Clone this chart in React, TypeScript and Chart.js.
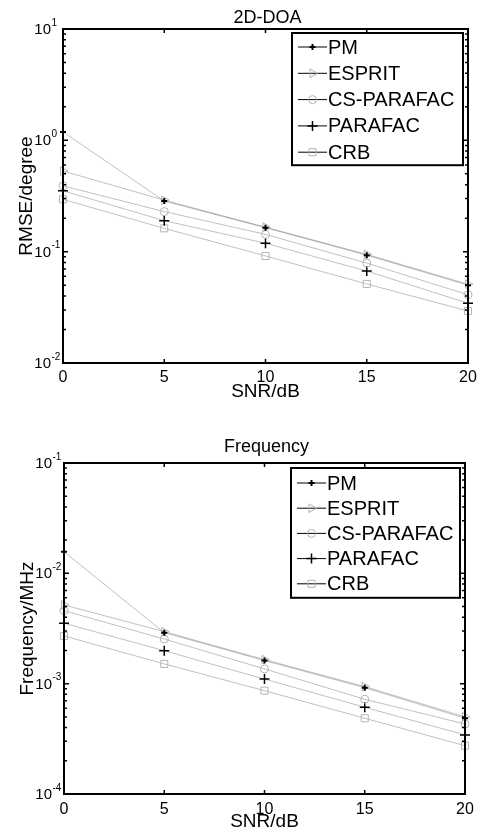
import React, { useEffect, useRef } from 'react';
import { Chart, registerables } from 'chart.js';
import { drawPoint } from 'chart.js/helpers';

Chart.register(...registerables);

// ---------- data ----------
const snr = [0, 5, 10, 15, 20];
const seriesNames = ['PM', 'ESPRIT', 'CS-PARAFAC', 'PARAFAC', 'CRB'];

const doaPM = [1.19, 0.285, 0.164, 0.093, 0.05];
const doaESPRIT = [0.53, 0.29, 0.166, 0.0945, 0.051];
const doaCSPARAFAC = [0.39, 0.229, 0.143, 0.079, 0.041];
const doaPARAFAC = [0.352, 0.19, 0.119, 0.067, 0.0344];
const doaCRB = [0.295, 0.162, 0.0915, 0.0513, 0.0293];

const freqPM = [0.0157, 0.0029, 0.00162, 0.00092, 0.000486];
const freqESPRIT = [0.00517, 0.00296, 0.00165, 0.00094, 0.0005];
const freqCSPARAFAC = [0.00459, 0.00254, 0.00136, 0.000722, 0.000431];
const freqPARAFAC = [0.00353, 0.00199, 0.0011, 0.000611, 0.000343];
const freqCRB = [0.00271, 0.00151, 0.000864, 0.000486, 0.000274];

const xTicks = [0, 5, 10, 15, 20];
const doaDecades = [-2, -1, 0, 1];
const freqDecades = [-4, -3, -2, -1];

// ---------- styles ----------
const FONT = '"Liberation Sans", Arial, Helvetica, sans-serif';
const LINE_COLOR = 'rgba(0,0,0,0.25)';
const markerStyles = [
  { pointStyle: 'cross', radius: 3, rotation: 0, borderWidth: 2, color: '#000000' },
  { pointStyle: 'triangle', radius: 5, rotation: 90, borderWidth: 1, color: '#b4b4b4' },
  { pointStyle: 'circle', radius: 4, rotation: 0, borderWidth: 1, color: '#b4b4b4' },
  { pointStyle: 'cross', radius: 5, rotation: 0, borderWidth: 1.5, color: '#000000' },
  { pointStyle: 'rect', radius: 5, rotation: 0, borderWidth: 1, color: '#b4b4b4' },
];

type PanelCfg = {
  title: string;
  yTitle: string;
  decades: number[];
  padding: { left: number; top: number; right: number; bottom: number };
  titleBaseline: number;
  xLabelGap: number;
  xTitleBaseline: number;
  yTitleX: number;
  legendTop: number;
  legendRightInset: number;
  legendWidth: number;
  legendRow: number;
  legendFirst: number;
};

function makePlugin(cfg: PanelCfg) {
  return {
    id: 'matlabAxes',
    afterDraw(chart: any) {
      const ctx: CanvasRenderingContext2D = chart.ctx;
      const ca = chart.chartArea;
      const xs = chart.scales.x;
      const ys = chart.scales.y;
      ctx.save();
      ctx.strokeStyle = '#000';
      ctx.fillStyle = '#000';

      // ticks
      ctx.lineWidth = 1.5;
      ctx.beginPath();
      for (const t of xTicks) {
        const px = xs.getPixelForValue(t);
        ctx.moveTo(px, ca.bottom);
        ctx.lineTo(px, ca.bottom - 4);
        ctx.moveTo(px, ca.top);
        ctx.lineTo(px, ca.top + 4);
      }
      const dmin = cfg.decades[0];
      const dmax = cfg.decades[cfg.decades.length - 1];
      for (let d = dmin; d <= dmax; d++) {
        const py = ys.getPixelForValue(Math.pow(10, d));
        ctx.moveTo(ca.left, py);
        ctx.lineTo(ca.left + 5, py);
        ctx.moveTo(ca.right, py);
        ctx.lineTo(ca.right - 5, py);
        if (d < dmax) {
          for (let m = 2; m <= 9; m++) {
            const pm = ys.getPixelForValue(m * Math.pow(10, d));
            ctx.moveTo(ca.left, pm);
            ctx.lineTo(ca.left + 3, pm);
            ctx.moveTo(ca.right, pm);
            ctx.lineTo(ca.right - 3, pm);
          }
        }
      }
      ctx.stroke();

      // box
      ctx.lineWidth = 2;
      ctx.strokeRect(ca.left, ca.top, ca.right - ca.left, ca.bottom - ca.top);

      // x tick labels
      ctx.font = `16px ${FONT}`;
      ctx.textAlign = 'center';
      ctx.textBaseline = 'top';
      for (const t of xTicks) {
        ctx.fillText(String(t), xs.getPixelForValue(t), ca.bottom + cfg.xLabelGap);
      }

      // y tick labels with superscripts
      for (const d of cfg.decades) {
        const py = ys.getPixelForValue(Math.pow(10, d));
        ctx.font = `15px ${FONT}`;
        ctx.textAlign = 'right';
        ctx.textBaseline = 'middle';
        ctx.fillText('10', ca.left - 12, py + 1);
        ctx.font = `10px ${FONT}`;
        ctx.textAlign = 'left';
        ctx.fillText(String(d), ca.left - 11.5, py - 6);
      }

      // titles
      const cx = (ca.left + ca.right) / 2;
      ctx.textAlign = 'center';
      ctx.textBaseline = 'alphabetic';
      ctx.font = `18px ${FONT}`;
      ctx.fillText(cfg.title, cx + 2, cfg.titleBaseline);
      ctx.font = `19px ${FONT}`;
      ctx.fillText('SNR/dB', cx, cfg.xTitleBaseline);
      ctx.save();
      ctx.translate(cfg.yTitleX, (ca.top + ca.bottom) / 2);
      ctx.rotate(-Math.PI / 2);
      ctx.fillText(cfg.yTitle, 0, 0);
      ctx.restore();

      // legend
      const lw = cfg.legendWidth;
      const lh = cfg.legendFirst * 2 + cfg.legendRow * (seriesNames.length - 1) - 1;
      const lx = ca.right - cfg.legendRightInset - lw;
      const ly = cfg.legendTop;
      ctx.fillStyle = '#fff';
      ctx.fillRect(lx, ly, lw, lh);
      ctx.lineWidth = 2;
      ctx.strokeStyle = '#000';
      ctx.strokeRect(lx, ly, lw, lh);
      ctx.font = `20px ${FONT}`;
      ctx.textAlign = 'left';
      ctx.textBaseline = 'middle';
      seriesNames.forEach((name, i) => {
        const ry = ly + cfg.legendFirst + i * cfg.legendRow;
        ctx.strokeStyle = '#000';
        ctx.lineWidth = 1;
        ctx.beginPath();
        ctx.moveTo(lx + 6, ry);
        ctx.lineTo(lx + 35, ry);
        ctx.stroke();
        const ms = markerStyles[i];
        ctx.strokeStyle = ms.color;
        ctx.fillStyle = 'rgba(0,0,0,0)';
        ctx.lineWidth = ms.borderWidth;
        drawPoint(ctx, { pointStyle: ms.pointStyle as any, radius: ms.radius, rotation: ms.rotation, borderWidth: ms.borderWidth } as any, lx + 20.5, ry);
        ctx.fillStyle = '#000';
        ctx.fillText(name, lx + 36, ry + 1);
      });
      ctx.restore();
    },
  };
}

function buildDatasets(series: number[][]) {
  return series.map((vals, i) => {
    const ms = markerStyles[i];
    return {
      label: seriesNames[i],
      data: vals.map((v, j) => ({ x: snr[j], y: v })),
      borderColor: LINE_COLOR,
      borderWidth: 1,
      pointStyle: ms.pointStyle,
      pointRadius: ms.radius,
      pointRotation: ms.rotation,
      pointBorderWidth: ms.borderWidth,
      pointBorderColor: ms.color,
      pointBackgroundColor: 'rgba(0,0,0,0)',
      tension: 0,
      clip: false,
    };
  });
}

function Panel(props: { series: number[][]; cfg: PanelCfg; width: number; height: number; top: number }) {
  const ref = useRef<HTMLCanvasElement>(null);
  useEffect(() => {
    if (!ref.current) return;
    const dmin = props.cfg.decades[0];
    const dmax = props.cfg.decades[props.cfg.decades.length - 1];
    const chart = new Chart(ref.current, {
      type: 'line',
      data: { datasets: buildDatasets(props.series) as any },
      options: {
        responsive: false,
        animation: false,
        devicePixelRatio: 1,
        layout: { padding: props.cfg.padding },
        plugins: { legend: { display: false }, title: { display: false }, tooltip: { enabled: false } },
        scales: {
          x: { type: 'linear', min: 0, max: 20, display: false },
          y: { type: 'logarithmic', min: Math.pow(10, dmin), max: Math.pow(10, dmax), display: false },
        },
      },
      plugins: [makePlugin(props.cfg)],
    });
    return () => chart.destroy();
  }, []);
  return (
    <canvas
      ref={ref}
      width={props.width}
      height={props.height}
      style={{ position: 'absolute', left: 0, top: props.top, width: props.width, height: props.height }}
    />
  );
}

const doaCfg: PanelCfg = {
  title: '2D-DOA',
  yTitle: 'RMSE/degree',
  decades: doaDecades,
  padding: { left: 63, top: 29, right: 12, bottom: 53 },
  titleBaseline: 23,
  xLabelGap: 7,
  xTitleBaseline: 397,
  yTitleX: 32,
  legendTop: 33,
  legendRightInset: 5,
  legendWidth: 171,
  legendRow: 26.3,
  legendFirst: 14,
};

const freqCfg: PanelCfg = {
  title: 'Frequency',
  yTitle: 'Frequency/MHz',
  decades: freqDecades,
  padding: { left: 64, top: 47, right: 15, bottom: 39 },
  titleBaseline: 36,
  xLabelGap: 8,
  xTitleBaseline: 411,
  yTitleX: 33,
  legendTop: 52,
  legendRightInset: 5,
  legendWidth: 169,
  legendRow: 25.2,
  legendFirst: 15,
};

export default function App() {
  return (
    <div style={{ position: 'fixed', left: 0, top: 0, width: 480, height: 833, background: '#fff' }}>
      <Panel series={[doaPM, doaESPRIT, doaCSPARAFAC, doaPARAFAC, doaCRB]} cfg={doaCfg} width={480} height={416} top={0} />
      <Panel series={[freqPM, freqESPRIT, freqCSPARAFAC, freqPARAFAC, freqCRB]} cfg={freqCfg} width={480} height={417} top={416} />
    </div>
  );
}
